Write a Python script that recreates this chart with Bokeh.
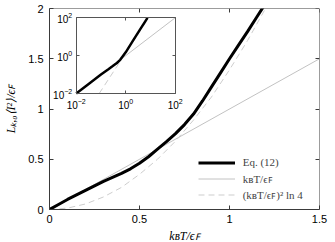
from bokeh.plotting import figure
from bokeh.models import (Range1d, LinearAxis, LogAxis, LogScale, FixedTicker,
                          Legend, LegendItem)
from bokeh.embed import file_html
from bokeh.resources import INLINE

# ---------------- data ----------------
x_ticks = [0, 0.5, 1, 1.5]
y_ticks = [0, 0.5, 1, 1.5, 2]
inset_ticks = [1e-2, 1e0, 1e2]

# Eq. (12), main panel
t_eq = [0, 0.05, 0.1, 0.15, 0.2, 0.25, 0.3, 0.35, 0.4, 0.45, 0.5, 0.55, 0.6,
        0.65, 0.7, 0.75, 0.8, 0.85, 0.9, 0.95, 1.0, 1.05, 1.1, 1.15, 1.2]
l_eq = [0, 0.05, 0.10, 0.145, 0.19, 0.235, 0.28, 0.32, 0.36, 0.405, 0.46, 0.525, 0.60,
        0.675, 0.755, 0.845, 0.95, 1.08, 1.22, 1.36, 1.50, 1.635, 1.77, 1.91, 2.05]
# k_B T / eps_F
t_lin = [0, 1.5]
l_lin = [0, 1.5]
# (k_B T / eps_F)^2 ln 4
t_sq = [0, 0.1, 0.2, 0.3, 0.4, 0.5, 0.6, 0.7, 0.8, 0.9, 1.0, 1.1, 1.2]
l_sq = [0, 0.014, 0.055, 0.125, 0.22, 0.35, 0.50, 0.68, 0.89, 1.12, 1.39, 1.68, 2.0]

# inset (log-log)
t_eq_log = [0.01, 0.03, 0.1, 0.2, 0.3, 0.44, 0.6, 1.0, 2.0, 4.0, 7.6]
l_eq_log = [0.01, 0.03, 0.1, 0.19, 0.28, 0.41, 0.60, 1.5, 6.4, 27, 100]
t_lin_log = [0.01, 100]
l_lin_log = [0.01, 100]
t_sq_log = [0.085, 8.5]
l_sq_log = [0.01, 100]

labels = ["Eq. (12)", "k\u0299T/\u03f5\ua730", "(k\u0299T/\u03f5\ua730)\u00b2 ln 4"]

# ---------------- layout ----------------
FRAME_W, FRAME_H = 270, 201
# inset box inside the frame, in pixels from frame left / top
IN_L, IN_R, IN_T, IN_B = 26.7, 125.7, 9.3, 85.0
IN_LO, IN_HI = -2, 2

dec_x = (IN_R - IN_L) / (IN_HI - IN_LO)
ex0 = IN_LO - IN_L / dec_x
ex1 = ex0 + FRAME_W / dec_x
dec_y = (IN_B - IN_T) / (IN_HI - IN_LO)
ey1 = IN_HI + IN_T / dec_y
ey0 = ey1 - FRAME_H / dec_y

p = figure(frame_width=FRAME_W, frame_height=FRAME_H,
           x_range=Range1d(0, 1.5), y_range=Range1d(0, 2),
           output_backend="svg", toolbar_location=None,
           min_border_left=49, min_border_right=16,
           min_border_top=8, min_border_bottom=33)
p.outline_line_color = None
p.grid.visible = False
p.background_fill_color = "white"
p.border_fill_color = "white"

p.extra_x_ranges = {"ix": Range1d(10 ** ex0, 10 ** ex1)}
p.extra_y_ranges = {"iy": Range1d(10 ** ey0, 10 ** ey1)}
p.extra_x_scales = {"ix": LogScale()}
p.extra_y_scales = {"iy": LogScale()}

AX = "#3a3a3a"
TICK_FONT = "Liberation Sans"
LAB_FONT = "Liberation Serif"


def style(ax, ticks, show_labels=True, size="11px"):
    ax.ticker = FixedTicker(ticks=ticks)
    ax.major_tick_in = 4
    ax.major_tick_out = 0
    ax.minor_tick_in = 0
    ax.minor_tick_out = 0
    ax.axis_line_color = AX
    ax.axis_line_width = 1
    ax.major_tick_line_color = AX
    ax.major_label_text_font = TICK_FONT
    ax.major_label_text_font_size = size
    ax.major_label_text_color = "black" if show_labels else None


xa = p.xaxis[0]
ya = p.yaxis[0]
style(xa, x_ticks)
style(ya, y_ticks)
xa.major_label_standoff = 5
ya.major_label_standoff = 6
xa.axis_label = "k\u0299T/\u03f5\ua730"
ya.axis_label = "L\u2096,\u2080\u27e8I\u00b2\u27e9/\u03f5\ua730"
for a in (xa, ya):
    a.axis_label_text_font = LAB_FONT
    a.axis_label_text_font_style = "italic"
    a.axis_label_text_font_size = "12px"
    a.axis_label_text_color = "black"
xa.axis_label_standoff = 3
ya.axis_label_standoff = 7

# top / right box edges with inward ticks (fixed location -> no extra space)
top = LinearAxis(fixed_location=y_ticks[-1])
style(top, x_ticks, show_labels=False)
p.add_layout(top, "above")
right = LinearAxis(fixed_location=x_ticks[-1])
style(right, y_ticks, show_labels=False)
p.add_layout(right, "right")

# main curves
r_lin = p.line(t_lin, l_lin, line_color="#c2c2c2", line_width=1)
r_sq = p.line(t_sq, l_sq, line_color="#cdcdcd", line_width=1, line_dash="6 4")
r_eq = p.line(t_eq, l_eq, line_color="black", line_width=3)

# inset curves
p.line(t_lin_log, l_lin_log, line_color="#c2c2c2", line_width=1,
       x_range_name="ix", y_range_name="iy")
p.line(t_sq_log, l_sq_log, line_color="#cdcdcd", line_width=1, line_dash="6 4",
       x_range_name="ix", y_range_name="iy")
p.line(t_eq_log, l_eq_log, line_color="black", line_width=2.5,
       x_range_name="ix", y_range_name="iy")

# inset axes (box)
IAX = "#555555"


def inset_axis(loc, side, show):
    ax = LogAxis(x_range_name="ix", y_range_name="iy", fixed_location=loc,
                 bounds=(inset_ticks[0], inset_ticks[-1]))
    style(ax, inset_ticks, show_labels=show, size="10px")
    ax.major_tick_in = 3
    ax.axis_line_color = IAX
    ax.major_tick_line_color = IAX
    ax.major_label_standoff = 4
    p.add_layout(ax, side)
    return ax


inset_axis(inset_ticks[0], "below", True)
inset_axis(inset_ticks[0], "left", True)
inset_axis(inset_ticks[-1], "above", False)
inset_axis(inset_ticks[-1], "right", False)

legend = Legend(items=[LegendItem(label=labels[0], renderers=[r_eq]),
                       LegendItem(label=labels[1], renderers=[r_lin]),
                       LegendItem(label=labels[2], renderers=[r_sq])],
                location=(148.7, 7.5), glyph_width=37, glyph_height=15,
                label_height=15, spacing=1, padding=0, margin=0,
                label_standoff=8, border_line_color=None,
                background_fill_alpha=0,
                label_text_font=LAB_FONT, label_text_font_size="11px")
p.add_layout(legend)

open("out.html", "w").write(file_html(p, INLINE))
